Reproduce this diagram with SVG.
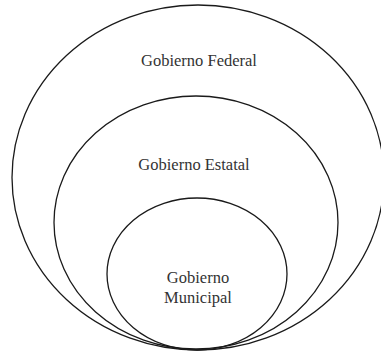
<svg xmlns="http://www.w3.org/2000/svg" width="381" height="352" viewBox="0 0 381 352">
<style>
.ring{fill:none;stroke:#1a1a1a;stroke-width:1.3}
.lbl{font-family:"Liberation Serif","Times New Roman",serif;font-size:16.5px;fill:#333;text-anchor:middle}
</style>
<rect width="381" height="352" fill="#fff"/>
<g id="federal">
<ellipse class="ring" cx="198" cy="177.5" rx="186" ry="172.5"/>
<text class="lbl" x="199" y="66">Gobierno Federal</text>
</g>
<g id="estatal">
<ellipse class="ring" cx="196" cy="222.5" rx="142" ry="126.5"/>
<text class="lbl" x="194" y="170">Gobierno Estatal</text>
</g>
<g id="municipal">
<ellipse class="ring" cx="197" cy="274" rx="90" ry="76"/>
<text class="lbl" x="198" y="283">Gobierno</text>
<text class="lbl" x="198" y="303">Municipal</text>
</g>
<g id="connectors"></g>
</svg>
